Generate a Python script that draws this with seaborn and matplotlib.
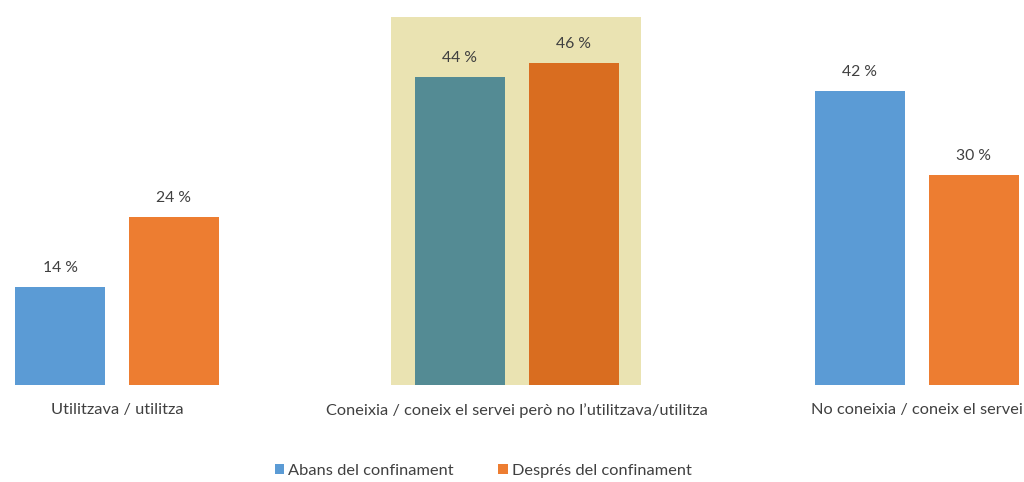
import matplotlib
matplotlib.use("Agg")
import matplotlib.pyplot as plt
from matplotlib.patches import Rectangle, Patch
import seaborn as sns
import pandas as pd

categories = [
    "Utilitzava / utilitza",
    "Coneixia / coneix el servei però no l’utilitzava/utilitza",
    "No coneixia / coneix el servei",
]
series_names = ["Abans del confinament", "Després del confinament"]
abans = [14, 44, 42]
despres = [24, 46, 30]

colors = {"Abans del confinament": "#5B9BD5", "Després del confinament": "#ED7D31"}
highlight_colors = ["#548B94", "#D96D20"]
text_color = "#404040"

df = pd.DataFrame({
    "categoria": categories * 2,
    "serie": [series_names[0]] * 3 + [series_names[1]] * 3,
    "valor": abans + despres,
})

sns.set_theme(style="white")
plt.rcParams["font.family"] = ["Lato", "DejaVu Sans"]

fig = plt.figure(figsize=(10.24, 4.82), dpi=100)
ax = fig.add_axes([0, (482 - 385) / 482, 1, 385 / 482])

# highlighted middle category background
ax.add_patch(Rectangle((0.685, 0), 0.625, 52.6, facecolor="#EAE3B2",
                       edgecolor="none", zorder=0))

sns.barplot(data=df, x="categoria", y="valor", hue="serie", order=categories,
            hue_order=series_names, palette=colors, width=0.57, gap=0.21,
            legend=False, ax=ax, zorder=2, saturation=1)

# recolour the bars of the highlighted category
for container, col in zip(ax.containers, highlight_colors):
    container.patches[1].set_facecolor(col)
    for bar in container.patches:
        bar.set_edgecolor("none")

for container in ax.containers:
    ax.bar_label(container, labels=[f"{v:.0f} %" for v in container.datavalues],
                 padding=9, fontsize=11.3, color=text_color)

ax.set_xlim(-0.2925, 2.2675)
ax.set_ylim(0, 55)
ax.set_xlabel("")
ax.set_ylabel("")
ax.set_yticks([])
ax.tick_params(axis="x", length=0, pad=13, labelsize=11.8, labelcolor=text_color)
for s in ax.spines.values():
    s.set_visible(False)
ax.patch.set_alpha(0)

handles = [Patch(facecolor=colors[n], edgecolor="none") for n in series_names]
fig.legend(handles, series_names, loc="lower center", bbox_to_anchor=(0.472, -0.022),
           ncol=2, frameon=False, fontsize=11.8, labelcolor=text_color,
           handlelength=0.6, handleheight=0.6, handletextpad=0.25, columnspacing=2.7)

fig.savefig("out.png", dpi=100)
